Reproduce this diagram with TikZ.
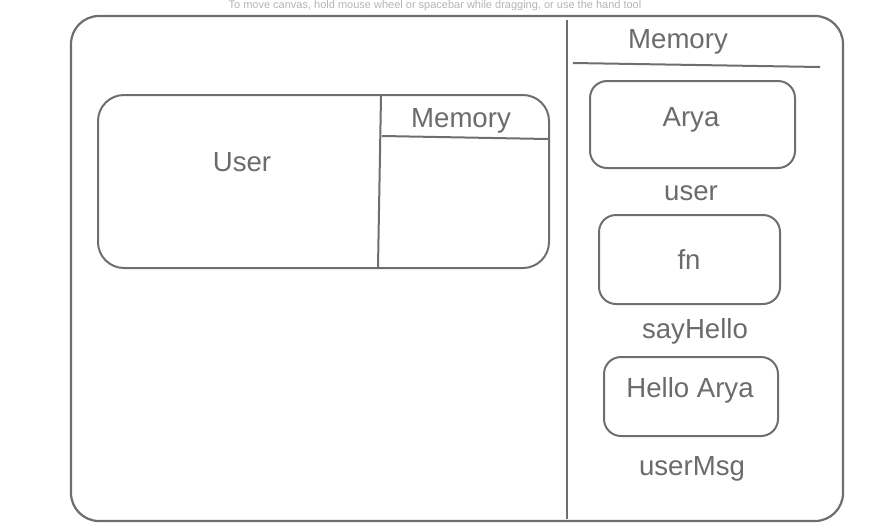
\documentclass[tikz,border=0pt]{standalone}
\usepackage{fontspec}
\setmainfont{Liberation Sans}
\definecolor{strokeg}{HTML}{6E6E6E}
\definecolor{textg}{HTML}{6B6B6B}
\definecolor{hintg}{HTML}{B4B4B4}
\begin{document}
\begin{tikzpicture}[x=1pt,y=-1pt,
  frame/.style={draw=strokeg,line width=2.2pt,rounded corners=28pt,inner sep=0pt},
  cell/.style={draw=strokeg,line width=2pt,rounded corners=17pt,inner sep=0pt},
  rule/.style={draw=strokeg,line width=2pt},
  txt/.style={text=textg,font=\fontsize{27.6}{32}\selectfont,anchor=base,inner sep=0pt},
  hint/.style={text=hintg,font=\fontsize{11}{13}\selectfont,inner sep=0pt}]
\useasboundingbox (0,0) rectangle (894,531);
\node[hint] (hint) at (435,5.5) {To move canvas, hold mouse wheel or spacebar while dragging, or use the hand tool};
% outer frame
\node[frame,minimum width=772pt,minimum height=505pt] (outer) at (457,268.5) {};
\coordinate (divtop) at (567,20);
\coordinate (divbot) at (567,519);
\draw[rule] (divtop) -- (divbot);
\node[txt] (memr) at (678,48) {Memory};
\coordinate (mrl) at (573,63);
\coordinate (mrr) at (820,67);
\draw[rule] (mrl) -- (mrr);
% right cells
\node[cell,minimum width=205pt,minimum height=87pt] (arya) at (692.5,124.5) {};
\node[txt] (aryat) at (691,126) {Arya};
\node[txt] (user) at (691,200) {user};
\node[cell,minimum width=181pt,minimum height=89pt] (fn) at (689.5,259.5) {};
\node[txt] (fnt) at (689,269) {fn};
\node[txt] (say) at (695,338) {sayHello};
\node[cell,minimum width=174pt,minimum height=79pt] (hello) at (691,396.5) {};
\node[txt] (hellot) at (690,397) {Hello Arya};
\node[txt] (umsg) at (692,475) {userMsg};
% left object
\node[frame,line width=2pt,minimum width=451pt,minimum height=173pt,rounded corners=26pt] (obj) at (323.5,181.5) {};
\coordinate (lvt) at (381,96);
\coordinate (lvb) at (378,267);
\draw[rule] (lvt) -- (lvb);
\coordinate (lhl) at (382,136);
\coordinate (lhr) at (548,139);
\draw[rule] (lhl) -- (lhr);
\node[txt] (usert) at (242,171) {User};
\node[txt] (meml) at (461,127) {Memory};
\end{tikzpicture}
\end{document}
